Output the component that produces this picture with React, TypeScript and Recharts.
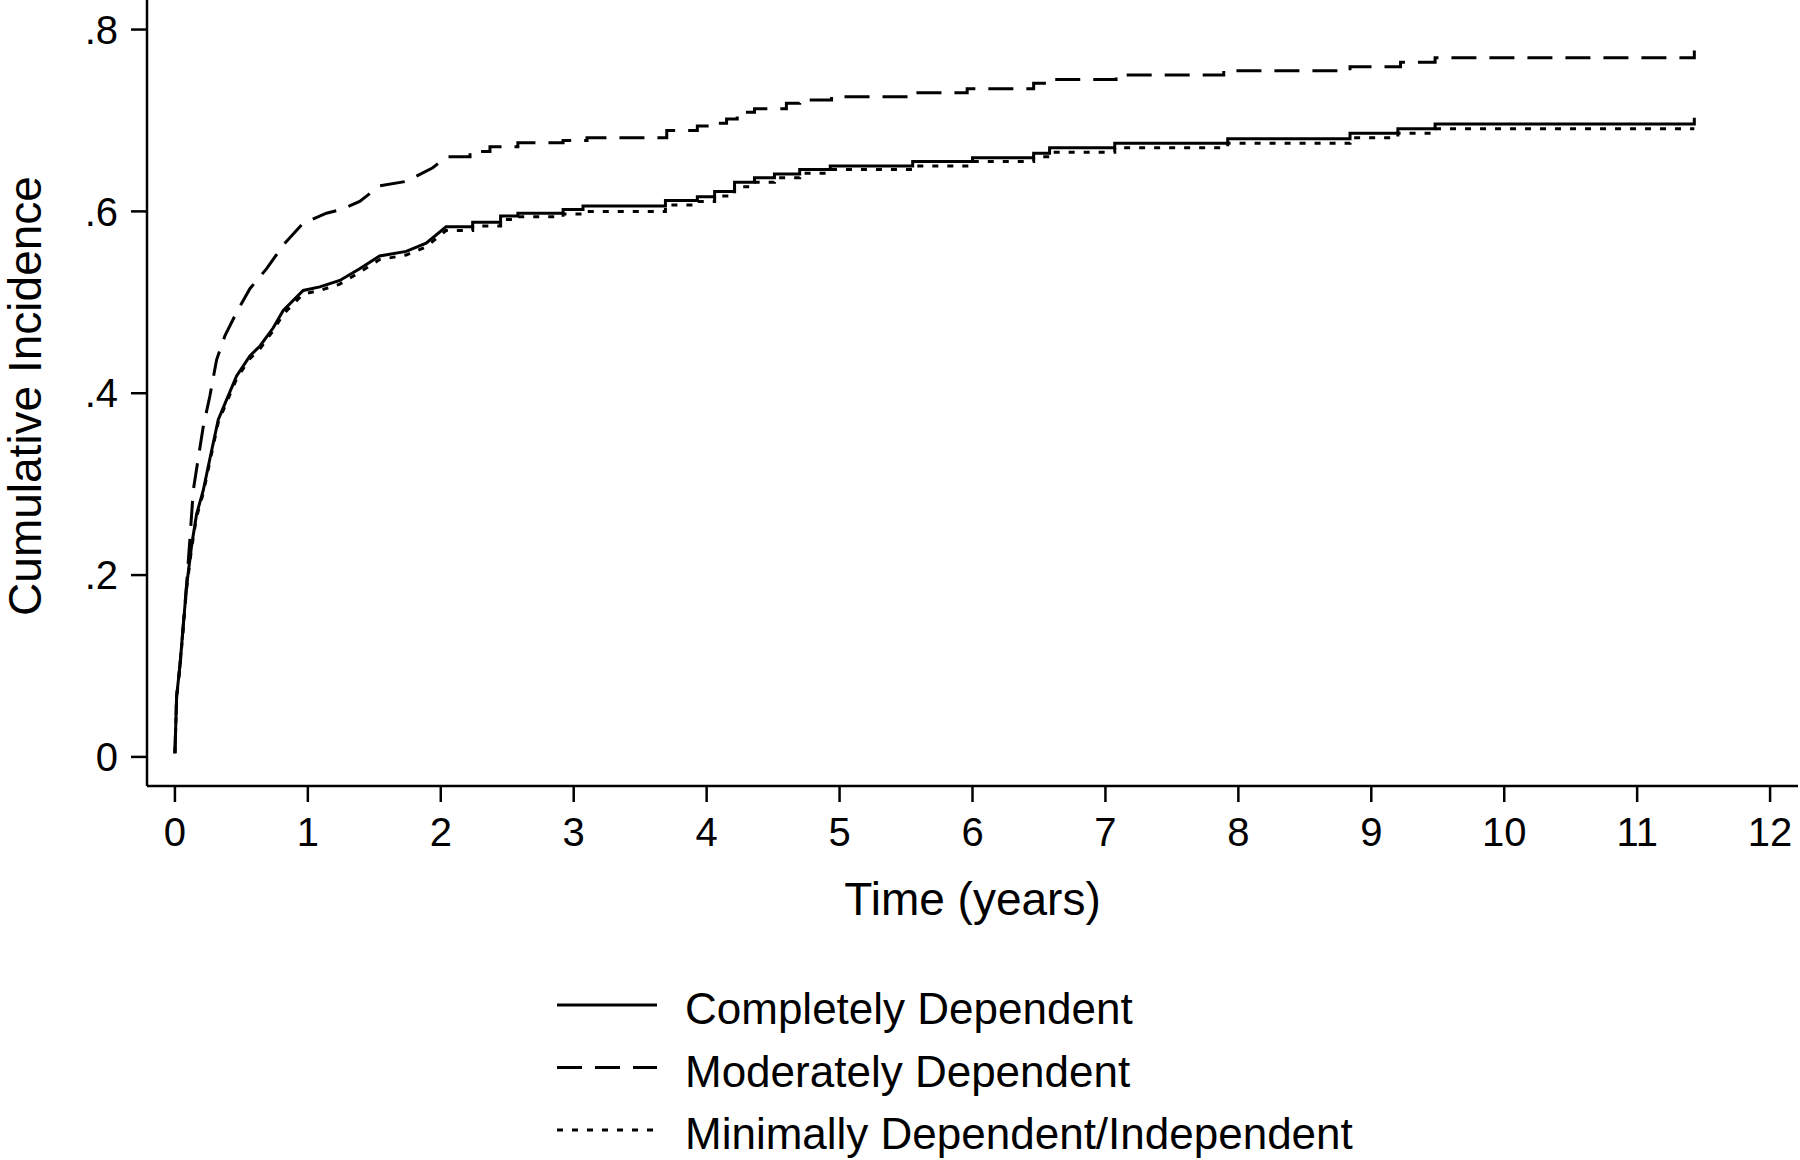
import React from 'react';
import { LineChart, Line, XAxis, YAxis, Legend } from 'recharts';

// [time in years, cumulative incidence]; early part is a dense curve,
// later part lists each step as (time, before) + (time, after)
const completelyDependent: [number, number][] = [
  [0, 0.004], [0.013, 0.067], [0.038, 0.101], [0.063, 0.145], [0.088, 0.188],
  [0.125, 0.232], [0.163, 0.267], [0.213, 0.293], [0.263, 0.328], [0.326, 0.371],
  [0.389, 0.393], [0.464, 0.419], [0.564, 0.441], [0.64, 0.452], [0.74, 0.472],
  [0.815, 0.491], [0.965, 0.513], [1.09, 0.517], [1.24, 0.524], [1.39, 0.537],
  [1.54, 0.551], [1.74, 0.556], [1.89, 0.565], [2.04, 0.583],
  [2.24, 0.583], [2.24, 0.588], [2.45, 0.588], [2.45, 0.595], [2.58, 0.595], [2.58, 0.598],
  [2.92, 0.598], [2.92, 0.602], [3.07, 0.602], [3.07, 0.606], [3.69, 0.606], [3.69, 0.612],
  [3.93, 0.612], [3.93, 0.616], [4.06, 0.616], [4.06, 0.622], [4.21, 0.622], [4.21, 0.632],
  [4.36, 0.632], [4.36, 0.637], [4.51, 0.637], [4.51, 0.641], [4.7, 0.641], [4.7, 0.646],
  [4.93, 0.646], [4.93, 0.65], [5.55, 0.65], [5.55, 0.655], [6.0, 0.655], [6.0, 0.659],
  [6.46, 0.659], [6.46, 0.664], [6.58, 0.664], [6.58, 0.67], [7.07, 0.67], [7.07, 0.675],
  [7.92, 0.675], [7.92, 0.68], [8.84, 0.68], [8.84, 0.686], [9.2, 0.686], [9.2, 0.691],
  [9.48, 0.691], [9.48, 0.696], [11.43, 0.696], [11.43, 0.703],
];

const moderatelyDependent: [number, number][] = [
  [0, 0.004], [0.013, 0.067], [0.038, 0.101], [0.063, 0.145], [0.088, 0.19],
  [0.113, 0.24], [0.138, 0.293], [0.175, 0.328], [0.213, 0.363], [0.263, 0.397],
  [0.314, 0.437], [0.376, 0.463], [0.464, 0.489], [0.564, 0.515], [0.69, 0.537],
  [0.815, 0.563], [0.965, 0.587], [1.14, 0.598], [1.25, 0.602], [1.39, 0.611],
  [1.54, 0.628], [1.74, 0.633], [1.94, 0.648], [2.04, 0.66],
  [2.22, 0.66], [2.22, 0.666], [2.37, 0.666], [2.37, 0.671], [2.58, 0.671], [2.58, 0.6755],
  [2.92, 0.6755], [2.92, 0.678], [3.1, 0.678], [3.1, 0.681], [3.7, 0.681], [3.7, 0.689],
  [3.93, 0.689], [3.93, 0.694], [4.05, 0.694], [4.05, 0.697], [4.15, 0.697], [4.15, 0.7015],
  [4.23, 0.7015], [4.23, 0.709], [4.36, 0.709], [4.36, 0.713], [4.6, 0.713], [4.6, 0.719],
  [4.7, 0.719], [4.7, 0.7225], [4.94, 0.7225], [4.94, 0.726], [5.55, 0.726], [5.55, 0.7305],
  [5.96, 0.7305], [5.96, 0.735], [6.46, 0.735], [6.46, 0.741], [6.58, 0.741], [6.58, 0.745],
  [7.08, 0.745], [7.08, 0.75], [7.89, 0.75], [7.89, 0.7547], [8.84, 0.7547], [8.84, 0.759],
  [9.22, 0.759], [9.22, 0.764], [9.48, 0.764], [9.48, 0.769], [11.43, 0.769], [11.43, 0.777],
];

const minimallyDependent: [number, number][] = [
  [0, 0.004], [0.013, 0.065], [0.038, 0.099], [0.063, 0.142], [0.088, 0.185],
  [0.125, 0.229], [0.163, 0.264], [0.213, 0.29], [0.263, 0.325], [0.326, 0.368],
  [0.389, 0.39], [0.464, 0.416], [0.564, 0.438], [0.64, 0.449], [0.74, 0.469],
  [0.815, 0.487], [0.965, 0.509], [1.09, 0.513], [1.24, 0.52], [1.39, 0.533],
  [1.54, 0.547], [1.74, 0.552], [1.89, 0.561], [2.04, 0.579],
  [2.24, 0.579], [2.24, 0.584], [2.45, 0.584], [2.45, 0.591], [2.58, 0.591], [2.58, 0.594],
  [2.92, 0.594], [2.92, 0.597], [3.07, 0.597], [3.07, 0.6], [3.69, 0.6], [3.69, 0.607],
  [3.93, 0.607], [3.93, 0.611], [4.06, 0.611], [4.06, 0.617], [4.21, 0.617], [4.21, 0.627],
  [4.36, 0.627], [4.36, 0.632], [4.51, 0.632], [4.51, 0.637], [4.7, 0.637], [4.7, 0.642],
  [4.93, 0.642], [4.93, 0.646], [5.55, 0.646], [5.55, 0.65], [6.0, 0.65], [6.0, 0.655],
  [6.46, 0.655], [6.46, 0.66], [6.58, 0.66], [6.58, 0.665], [7.07, 0.665], [7.07, 0.67],
  [7.92, 0.67], [7.92, 0.675], [8.84, 0.675], [8.84, 0.681], [9.2, 0.681], [9.2, 0.686],
  [9.48, 0.686], [9.48, 0.691], [11.43, 0.691],
];

const xTicks = [0, 1, 2, 3, 4, 5, 6, 7, 8, 9, 10, 11, 12];
const yTicks = [0, 0.2, 0.4, 0.6, 0.8];

const series = [
  { name: 'Completely Dependent', points: completelyDependent, dash: undefined as string | undefined },
  { name: 'Moderately Dependent', points: moderatelyDependent, dash: '25 13' },
  { name: 'Minimally Dependent/Independent', points: minimallyDependent, dash: '6 9' },
];

const FONT = '"Liberation Sans", Arial, Helvetica, sans-serif';

const toRows = (pts: [number, number][]) => pts.map(([t, v]) => ({ t, v }));

const fmtY = (v: number) => (v === 0 ? '0' : String(v).replace(/^0/, ''));

const LegendBox = () => (
  <svg width={900} height={185} style={{ display: 'block', overflow: 'visible' }}>
    {series.map((s, i) => {
      const ly = 30 + i * 62.5;
      return (
        <g key={s.name}>
          <line x1={17} x2={117} y1={ly} y2={ly} stroke="#000" strokeWidth={3} strokeDasharray={s.dash} />
          <text x={145} y={ly + 19} fontSize={44} fontFamily={FONT} fill="#000">
            {s.name}
          </text>
        </g>
      );
    })}
  </svg>
);

const YTitle = ({ viewBox }: any) => {
  const x = viewBox.x + 41;
  const y = viewBox.y + viewBox.height / 2 + 3;
  return (
    <text x={x} y={y} transform={`rotate(-90, ${x}, ${y})`} textAnchor="middle" fontSize={46} fontFamily={FONT} fill="#000">
      Cumulative Incidence
    </text>
  );
};

const XTitle = ({ viewBox }: any) => (
  <text x={viewBox.x + viewBox.width / 2} y={viewBox.y + 129} textAnchor="middle" fontSize={46} fontFamily={FONT} fill="#000">
    Time (years)
  </text>
);

export default function App() {
  return (
    <div style={{ position: 'absolute', left: 0, top: 0, width: 1800, height: 1160, background: '#fff' }}>
      <LineChart width={1800} height={1160} margin={{ top: 0, right: 2, bottom: 224, left: 0 }}>
        <XAxis
          type="number"
          dataKey="t"
          domain={[-0.21, 12.21]}
          ticks={xTicks}
          allowDataOverflow
          height={150}
          tickSize={16}
          tickMargin={16}
          axisLine={{ stroke: '#000', strokeWidth: 2.5 }}
          tickLine={{ stroke: '#000', strokeWidth: 2.5 }}
          tick={{ fill: '#000', fontSize: 40, fontFamily: FONT }}
          label={<XTitle />}
        />
        <YAxis
          type="number"
          dataKey="v"
          domain={[-0.032, 0.8325]}
          ticks={yTicks}
          allowDataOverflow
          width={147}
          tickSize={16}
          tickMargin={13}
          tickFormatter={fmtY}
          axisLine={{ stroke: '#000', strokeWidth: 2.5 }}
          tickLine={{ stroke: '#000', strokeWidth: 2.5 }}
          tick={{ fill: '#000', fontSize: 40, fontFamily: FONT }}
          label={<YTitle />}
        />
        {series.map((s) => (
          <Line
            key={s.name}
            name={s.name}
            data={toRows(s.points)}
            dataKey="v"
            type="linear"
            stroke="#000"
            strokeWidth={3}
            strokeDasharray={s.dash}
            dot={false}
            activeDot={false}
            isAnimationActive={false}
          />
        ))}
        <Legend
          layout="horizontal"
          verticalAlign="middle"
          align="center"
          wrapperStyle={{ left: 540, top: 975, width: 900 }}
          content={() => <LegendBox />}
        />
      </LineChart>
    </div>
  );
}
